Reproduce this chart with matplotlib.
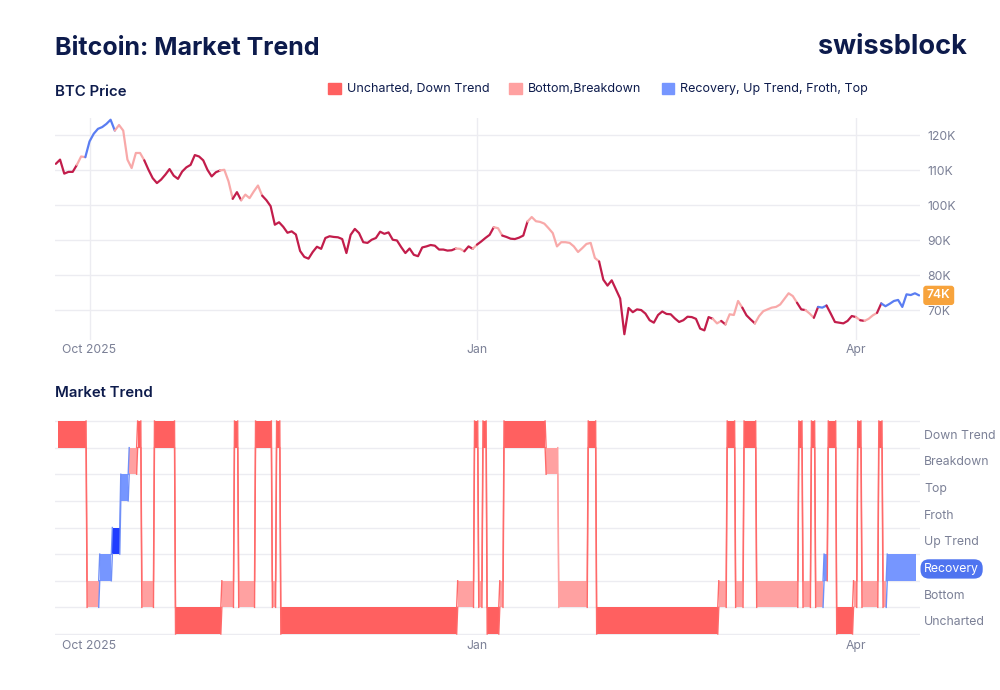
import numpy as np
import matplotlib.pyplot as plt
import matplotlib.dates as mdates
from matplotlib.patches import Patch
from matplotlib.transforms import blended_transform_factory

plt.rcParams['font.family'] = ['Inter', 'DejaVu Sans']

# daily BTC close in thousands of USD, starting 2025-09-23
start_date = np.datetime64('2025-09-23')
price_k = [111.9, 113.1, 109.1, 109.6, 109.6, 111.6, 114.0, 113.8, 118.3, 120.5,
           121.9, 122.4, 123.3, 124.5, 121.4, 123.0, 121.4, 113.1, 110.7, 115.0,
           115.0, 112.9, 110.2, 107.8, 106.4, 107.4, 108.8, 110.4, 108.5, 107.6,
           109.7, 110.9, 111.6, 114.4, 114.0, 112.9, 110.2, 108.3, 109.5, 110.0,
           110.2, 106.9, 101.9, 103.8, 101.5, 103.1, 102.1, 104.0, 105.7, 102.8,
           101.5, 99.8, 94.5, 95.2, 93.9, 92.2, 92.6, 91.7, 87.0, 85.3,
           84.8, 86.7, 88.2, 87.6, 90.7, 91.2, 91.0, 90.9, 90.4, 86.4,
           91.6, 93.3, 92.1, 89.5, 89.3, 90.2, 90.7, 92.5, 91.9, 92.3,
           90.2, 90.0, 88.1, 86.4, 87.7, 85.9, 85.5, 88.0, 88.3, 88.7,
           88.5, 87.4, 87.4, 87.1, 87.2, 87.7, 87.6, 86.9, 88.3, 87.6,
           88.8, 89.7, 90.7, 91.6, 93.8, 93.5, 91.4, 91.0, 90.5, 90.4,
           90.8, 91.4, 95.4, 96.7, 95.5, 95.3, 94.8, 93.5, 92.1, 88.3,
           89.5, 89.5, 89.3, 88.3, 86.7, 87.8, 89.0, 89.3, 85.0, 84.0,
           78.8, 77.1, 78.6, 76.0, 73.4, 63.2, 70.7, 69.5, 70.3, 70.1,
           69.1, 67.2, 66.5, 68.7, 69.7, 69.0, 68.9, 67.7, 66.7, 67.2,
           68.2, 68.1, 67.6, 64.8, 64.3, 68.1, 67.6, 66.3, 67.0, 66.0,
           68.9, 68.7, 72.7, 70.8, 68.6, 67.4, 66.3, 68.4, 69.8, 70.3,
           70.8, 71.0, 71.7, 73.3, 74.9, 74.1, 72.2, 70.3, 70.1, 69.1,
           67.9, 71.0, 70.8, 71.4, 69.1, 66.7, 66.5, 66.3, 67.0, 68.4,
           68.1, 67.2, 67.0, 67.6, 68.6, 69.3, 72.0, 71.2, 71.9, 72.7,
           73.0, 71.0, 74.6, 74.4, 74.9, 74.3]

# colour group of the price line, as runs (first day index of each run)
line_run_start = [0, 5, 7, 14, 21, 39, 42, 44, 49, 95,
                  97, 99, 100, 104, 106, 112, 129, 156, 158, 159,
                  163, 166, 176, 178, 180, 181, 183, 190, 191, 192,
                  195, 196]
line_run_group = ['down', 'bottom', 'up', 'bottom', 'down', 'bottom', 'down', 'bottom', 'down', 'bottom',
                  'down', 'bottom', 'down', 'bottom', 'down', 'bottom', 'down', 'bottom', 'down', 'bottom',
                  'down', 'bottom', 'down', 'bottom', 'down', 'up', 'down', 'bottom', 'down', 'bottom',
                  'down', 'up']

# market trend state, as runs (first day index of each run)
levels = ['Uncharted', 'Bottom', 'Recovery', 'Up Trend', 'Froth', 'Top', 'Breakdown', 'Down Trend']
trend_run_start = [0, 7, 10, 13, 15, 17, 19, 20, 23, 28,
                   39, 42, 43, 47, 51, 52, 53, 95, 99, 100,
                   101, 102, 105, 106, 116, 119, 126, 128, 157, 159,
                   161, 163, 166, 176, 177, 179, 180, 182, 183, 185,
                   189, 190, 191, 195, 196, 197]
trend_run_state = ['Down Trend', 'Bottom', 'Recovery', 'Up Trend', 'Top', 'Breakdown', 'Down Trend', 'Bottom', 'Down Trend', 'Uncharted',
                   'Bottom', 'Down Trend', 'Bottom', 'Down Trend', 'Bottom', 'Down Trend', 'Uncharted', 'Bottom', 'Down Trend', 'Bottom',
                   'Down Trend', 'Uncharted', 'Bottom', 'Down Trend', 'Breakdown', 'Bottom', 'Down Trend', 'Uncharted', 'Bottom', 'Down Trend',
                   'Bottom', 'Down Trend', 'Bottom', 'Down Trend', 'Bottom', 'Down Trend', 'Bottom', 'Recovery', 'Down Trend', 'Uncharted',
                   'Bottom', 'Down Trend', 'Bottom', 'Down Trend', 'Bottom', 'Recovery']
trend_end = 204

price_ticks = [70, 80, 90, 100, 110, 120]
date_ticks = ['2025-10-01', '2026-01-01', '2026-04-01']
date_tick_labels = ['Oct 2025', 'Jan', 'Apr']

navy = '#0d1b4c'
grey = '#7b8096'
grid_c = '#ececf1'
line_colors = {'down': '#c21d4b', 'bottom': '#f8a9a9', 'up': '#5a7df2'}
band_colors = {'Uncharted': '#ff6060', 'Down Trend': '#ff6060',
               'Bottom': '#ffa1a1', 'Breakdown': '#ffa1a1',
               'Recovery': '#7696ff', 'Froth': '#7696ff', 'Top': '#7696ff',
               'Up Trend': '#1f3dff'}

dates = start_date + np.arange(len(price_k))
x = mdates.date2num(dates)
tick_x = mdates.date2num(np.array(date_ticks, dtype='datetime64[D]'))
xlim = (x[0] - 0.2, x[0] + 205.2)

fig = plt.figure(figsize=(10, 6.9), dpi=100)
fig.patch.set_facecolor('white')

fig.text(0.055, 0.930, 'Bitcoin: Market Trend', fontsize=18, fontweight='bold', color=navy, va='center')
fig.text(0.967, 0.932, 'swissblock', fontsize=19.5, fontweight='bold', color=navy, va='center', ha='right')
fig.text(0.055, 0.867, 'BTC Price', fontsize=10.8, fontweight='semibold', color=navy, va='center')
fig.text(0.055, 0.430, 'Market Trend', fontsize=10.8, fontweight='semibold', color=navy, va='center')

handles = [Patch(color='#ff6060'), Patch(color='#ffa1a1'), Patch(color='#7696ff')]
fig.legend(handles, ['Uncharted, Down Trend', 'Bottom,Breakdown', 'Recovery, Up Trend, Froth, Top'],
           ncol=3, loc='center', bbox_to_anchor=(0.598, 0.871), frameon=False,
           handlelength=1.0, handleheight=1.0, handletextpad=0.5, columnspacing=1.6,
           fontsize=9, labelcolor=navy)

# --- price panel
ax = fig.add_axes([0.055, 0.507, 0.865, 0.322])
for t in tick_x:
    ax.axvline(t, color=grid_c, lw=1, zorder=0)
for p in price_ticks:
    ax.axhline(p, color=grid_c, lw=1, zorder=0)

run_ends = line_run_start[1:] + [len(price_k) - 1]
for s, e, g in zip(line_run_start, run_ends, line_run_group):
    ax.plot(x[s:e + 1], price_k[s:e + 1], color=line_colors[g], lw=1.6,
            solid_joinstyle='round', solid_capstyle='round', zorder=3)

ax.set_xlim(*xlim)
ax.set_ylim(61.5, 125)
ax.yaxis.tick_right()
ax.set_yticks(price_ticks)
ax.set_yticklabels([f'{p}K' for p in price_ticks])
ax.set_xticks(tick_x)
ax.set_xticklabels(date_tick_labels)
ax.tick_params(length=0, labelsize=8.8, labelcolor=grey)
ax.tick_params(axis='y', pad=5)
ax.tick_params(axis='x', pad=3)
for sp in ax.spines.values():
    sp.set_visible(False)

tr = blended_transform_factory(ax.transAxes, ax.transData)
ax.text(1.008, price_k[-1], f'{round(price_k[-1])}K', transform=tr, fontsize=8.8, fontweight='semibold',
        color='white', va='center', ha='left',
        bbox=dict(boxstyle='round,pad=0.3,rounding_size=0.25', fc='#f7a33c', ec='none'), zorder=5)

# --- market trend panel
ax2 = fig.add_axes([0.055, 0.080, 0.865, 0.311])
for lv in range(len(levels) + 1):
    ax2.axhline(lv, color=grid_c, lw=1, zorder=0)

offset = 0.3
gap = 0.12
red_set = {'Uncharted', 'Down Trend'}
pink_set = {'Bottom', 'Breakdown'}
trend_ends = trend_run_start[1:] + [trend_end]
for s, e, st in zip(trend_run_start, trend_ends, trend_run_state):
    lv = levels.index(st)
    ax2.fill_between([x[0] + s + offset + gap, x[0] + e + offset - gap], lv, lv + 1,
                     color=band_colors[st], lw=0, zorder=2)

for i in range(len(trend_run_start) - 1):
    a, b = trend_run_state[i], trend_run_state[i + 1]
    la, lb = levels.index(a), levels.index(b)
    if a in red_set or b in red_set:
        lc = '#ff6a6a'
    elif a in pink_set and b in pink_set:
        lc = '#ffa1a1'
    else:
        lc = '#6f8ff8'
    xe = x[0] + trend_ends[i] + offset
    xs = [xe - gap, xe + gap]
    ax2.plot(xs, [la, lb], color=lc, lw=1, zorder=3)
    ax2.plot(xs, [la + 1, lb + 1], color=lc, lw=1, zorder=3)

ax2.set_xlim(*xlim)
ax2.set_ylim(-0.03, 8.03)
ax2.yaxis.tick_right()
ax2.set_yticks(np.arange(len(levels)) + 0.5)
ax2.set_yticklabels(levels)
ax2.set_xticks(tick_x)
ax2.set_xticklabels(date_tick_labels)
ax2.tick_params(length=0, labelsize=8.8, labelcolor=grey)
ax2.tick_params(axis='y', pad=3)
ax2.tick_params(axis='x', pad=4)
for sp in ax2.spines.values():
    sp.set_visible(False)

current = trend_run_state[-1]
lab = ax2.get_yticklabels()[levels.index(current)]
lab.set_color('white')
lab.set_bbox(dict(boxstyle='round,pad=0.3,rounding_size=0.7', fc='#4f74f0', ec='none'))

fig.savefig('out.png', dpi=100, facecolor='white')
